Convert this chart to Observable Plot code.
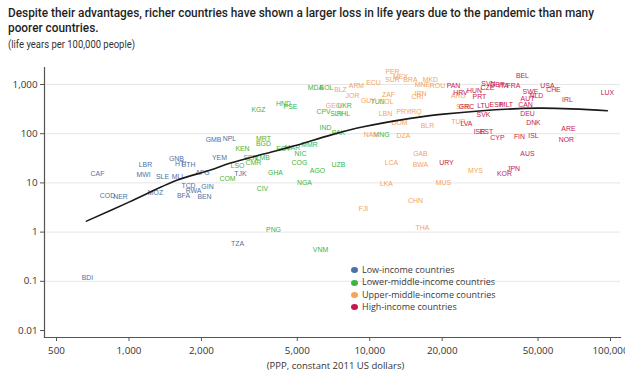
<!DOCTYPE html>
<html><head><meta charset="utf-8">
<script src="https://cdn.jsdelivr.net/npm/d3@7"></script>
<script src="https://cdn.jsdelivr.net/npm/@observablehq/plot@0.6"></script>
<style>
body{margin:0;background:#fff;font-family:"Open Sans",sans-serif;}
#wrap{position:relative;width:625px;height:375px;overflow:hidden;}
#head{position:relative;height:55px;}
.t{position:absolute;left:8px;white-space:nowrap;transform-origin:0 50%;color:#1f1f1f;font-family:Roboto,sans-serif;}
#t1{top:5px;font-size:13px;line-height:16px;font-weight:500;}
#t2{top:20px;font-size:13px;line-height:16px;font-weight:500;}
#t3{top:39px;font-size:10px;line-height:12px;font-weight:400;color:#333;}
#legend{position:absolute;left:351px;top:264px;font-size:9px;color:#3a3a3a;font-family:"Open Sans",sans-serif;}
#legend div{height:12.4px;line-height:12.4px;display:flex;align-items:center;white-space:nowrap;}
#legend span.d{display:inline-block;width:7px;height:6px;border-radius:50%;margin-right:4px;}
</style></head>
<body><div id="wrap">
<div id="head">
<div class="t" id="t1"></div>
<div class="t" id="t2"></div>
<div class="t" id="t3"></div>
</div>
<div id="chart"></div>
<div id="legend"></div>
</div>
<script>
const titleLine1 = "Despite their advantages, richer countries have shown a larger loss in life years due to the pandemic than many";
const titleLine2 = "poorer countries.";
const subtitle = "(life years per 100,000 people)";
const xLabel = "(PPP, constant 2011 US dollars)";

const incomeGroups = ["Low-income countries","Lower-middle-income countries","Upper-middle-income countries","High-income countries"];
const groupColors = ["#4a72a6","#3db540","#f6a35a","#c8174e"];

const xTicks = [500,1000,2000,5000,10000,20000,50000,100000];
const yTicks = [0.01,0.1,1,10,100,1000];
const gridTicks = [0.1,1,10,100,1000];

const lowCodes = ["BDI","CAF","COD","NER","MWI","LBR","MOZ","SLE","MLI","GNB","HTI","ETH","TCD","RWA","BFA","BEN","GIN","AFG","GMB","NPL","YEM","TJK","TZA"];
const lowGdp = [672,740,814,922,1149,1171,1289,1378,1590,1575,1637,1767,1767,1853,1684,2059,2119,2020,2244,2615,2376,2905,2823];
const lowLoss = [0.12,15.1,5.39,5.22,14.9,23.3,6.2,13.3,13.1,30.5,24.1,23.6,8.61,6.91,5.39,5.14,8.22,16.3,74.1,77.7,31.9,15.6,0.57];

const lmCodes = ["COM","KEN","LSO","CMR","SEN","ZMB","CIV","MRT","BGD","KGZ","GHA","HND","PSE","EGY","MAR","MMR","NIC","COG","AGO","NGA","PNG","VNM","UZB","IND","PAK","CPV","MDA","BOL","UKR","SLV","PHL","MNG","TUN"];
const lmGdp = [2566,2961,2823,3289,3196,3585,3585,3619,3619,3451,4060,4382,4686,4382,4775,5619,5156,5106,6066,5357,3984,6242,7417,6549,7417,6425,5952,6612,7852,7277,7779,11190,10770];
const lmLoss = [11.9,48.6,21.9,25.3,31.9,31.9,7.48,80.3,61.5,302,16.0,413,352,48.6,51.0,58.7,39.8,25.6,17.6,10.2,1.13,0.431,23.0,134,104,279,873,873,364,250,250,93.6,439];

const umCodes = ["BLZ","ARM","JOR","ECU","GEO","GUY","COL","ZAF","PER","MEX","SUR","BRA","MNE","MKD","ROU","IRN","CRI","ARG","LBN","PRY","IRQ","DOM","NAM","DZA","BLR","TUR","SRB","GAB","LCA","BWA","LKA","MUS","MYS","CHN","FJI","THA"];
const umGdp = [7557,8806,8477,10360,7070,9878,11730,11960,12430,13420,12430,14760,16560,17870,19110,16240,15790,23360,11620,13800,15490,13290,10160,13800,17370,23360,24500,16240,12310,16240,11730,20240,27480,15490,9417,16560];
const umLoss = [769,941,581,1068,364,460,439,618,1786,1414,1229,1229,986,1229,959,647,554,600,254,275,275,164,93.6,89.4,143,172,347,39.8,25.6,23.8,9.77,10.0,17.6,4.33,2.93,1.25];

const hiCodes = ["PAN","HRV","HUN","PRT","SVN","CZE","GBR","ITA","FRA","BEL","USA","CHE","SWE","NLD","AUT","LTU","ESP","MLT","CAN","GRC","SVK","DEU","LVA","ISR","EST","CYP","FIN","ISL","DNK","ARE","NOR","AUS","JPN","KOR","URY","IRL","LUX"];
const hiGdp = [22270,23810,27220,28550,31120,30830,33920,35920,39530,43080,54700,57940,46500,49250,45190,29670,33590,36970,44340,25220,29670,45190,25220,28550,30520,33920,41860,47860,47860,66880,65610,45190,39530,36270,20830,66250,97100];
const hiLoss = [928,669,734,554,1019,845,972,928,928,1482,928,769,724,600,512,376,387,387,387,347,242,254,157,109,109,84.1,86.5,90.7,167,124,76.6,38.5,19.7,15.1,25.6,482,691];

const fitGdp = [666,1000,1590,2180,2640,3619,5009,6868,9417,14760,20240,49720,97100];
const fitLoss = [1.67,4.07,11.4,18.2,25.3,38.5,58.7,93.6,138,205,250,331,292];

const groupsData = [[lowCodes,lowGdp,lowLoss],[lmCodes,lmGdp,lmLoss],[umCodes,umGdp,umLoss],[hiCodes,hiGdp,hiLoss]];
const rows = [];
groupsData.forEach(([c,g,l],gi)=>c.forEach((code,i)=>rows.push({code,gdp:g[i],loss:l[i],group:incomeGroups[gi]})));
const fitRows = fitGdp.map((g,i)=>({gdp:g,loss:fitLoss[i]}));

document.getElementById("t1").textContent = titleLine1;
document.getElementById("t2").textContent = titleLine2;
document.getElementById("t3").textContent = subtitle;

const fmt = d3.format(",");
const chart = Plot.plot({
  width:625, height:320,
  marginLeft:44, marginRight:5, marginTop:12, marginBottom:38,
  style:{fontFamily:"Open Sans, sans-serif", fontSize:"9.8px", color:"#333", background:"transparent", overflow:"visible"},
  x:{type:"log", domain:[500,100000], range:[56,610]},
  y:{type:"log", domain:[0.01,1000], range:[275,29]},
  color:{domain:incomeGroups, range:groupColors},
  marks:[
    Plot.gridY(gridTicks, {stroke:"#e6e6e6", strokeOpacity:1}),
    Plot.axisY(yTicks, {tickFormat:fmt, tickSize:4, tickPadding:3, label:null, stroke:"#555"}),
    Plot.axisX(xTicks, {tickSize:4, text:null, label:null, stroke:"#555"}),
    Plot.text(xTicks, {x:d=>d, text:d=>fmt(d), frameAnchor:"bottom", dy:16, fontSize:9.8, fill:"#333"}),
    Plot.text([xLabel], {text:d=>d, frameAnchor:"bottom", dx:3, dy:31, fontSize:9.5, fill:"#333"}),
    Plot.frame({anchor:"left", stroke:"#555", strokeWidth:1.2}),
    Plot.frame({anchor:"bottom", stroke:"#555", strokeWidth:1.2}),
    Plot.text(rows, {x:"gdp", y:"loss", text:"code", fill:"group", fontSize:6.9, fontFamily:"Liberation Sans, Arial, sans-serif"}),
    Plot.line(fitRows, {x:"gdp", y:"loss", curve:"catmull-rom", stroke:"#1a1a1a", strokeWidth:1.6})
  ]
});
document.getElementById("chart").appendChild(chart);

const lg = document.getElementById("legend");
incomeGroups.forEach((g,i)=>{
  const r = document.createElement("div");
  const d = document.createElement("span"); d.className="d"; d.style.background=groupColors[i];
  r.appendChild(d); r.appendChild(document.createTextNode(g)); lg.appendChild(r);
});

function fit(){
  const t1=document.getElementById("t1"), t2=document.getElementById("t2"), t3=document.getElementById("t3");
  t1.style.transform=""; t2.style.transform=""; t3.style.transform="";
  const s1 = 586 / t1.getBoundingClientRect().width;
  t1.style.transform = `scaleX(${s1})`; t2.style.transform = `scaleX(${s1})`;
  const s3 = 127 / t3.getBoundingClientRect().width;
  t3.style.transform = `scaleX(${s3})`;
}
fit();
if (document.fonts && document.fonts.ready) document.fonts.ready.then(fit);
</script>
</body></html>
